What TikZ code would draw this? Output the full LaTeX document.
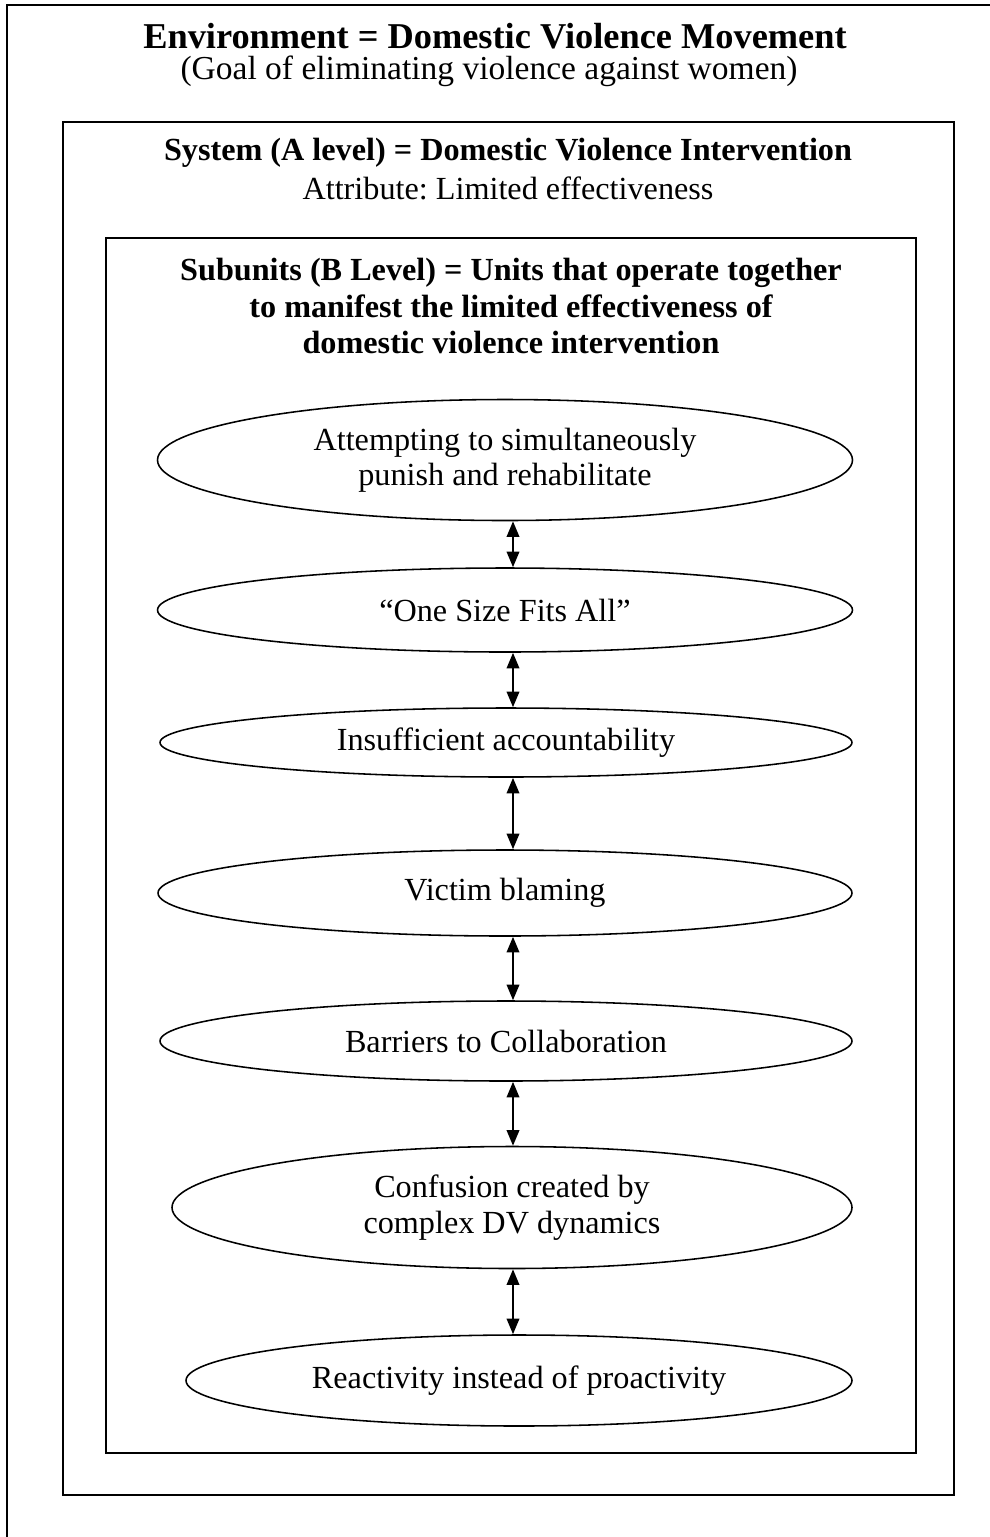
\documentclass[tikz,border=0pt]{standalone}
\usepackage{fontspec}
\setmainfont{Liberation Serif}
\usetikzlibrary{shapes.geometric,arrows.meta}
\frenchspacing
\tikzset{
  boxline/.style={line width=0.8pt},
  oval/.style={draw, ellipse, line width=0.6pt, inner sep=0pt, align=center, font=\fontsize{12.4}{13.6}\selectfont},
  hdr/.style={align=center, inner sep=0pt, font=\fontsize{12.4}{13.9}\selectfont},
  link/.style={line width=0.8pt, {Triangle[length=6pt,width=4.8pt]}-{Triangle[length=6pt,width=4.8pt]}}
}
\begin{document}
\begin{tikzpicture}[x=0.385pt,y=-0.385pt]
\useasboundingbox (0,0) rectangle (990,1537);
\clip (0,0) rectangle (990,1537);
% outer environment box (runs off the page right and bottom)
\draw[boxline] (1000,5) -- (7,5) -- (7,1550);
% system box
\draw[boxline] (63,122) rectangle (954,1495);
% subunit box
\draw[boxline] (106,238) rectangle (916,1453);

\node[hdr, font=\fontsize{14}{16}\selectfont\bfseries] (t1) at (495,36) {Environment = Domestic Violence Movement};
\node[hdr, font=\fontsize{12.9}{14.5}\selectfont] (t2) at (489,71) {(Goal of eliminating violence against women)};
\node[hdr, font=\fontsize{12.4}{13.9}\selectfont\bfseries] (s1) at (508,153) {System (A level) = Domestic Violence Intervention};
\node[hdr] (s2) at (508,188) {Attribute: Limited effectiveness};
\node[hdr, font=\fontsize{12.4}{13.9}\selectfont\bfseries] (u1) at (511,306) {Subunits (B Level) = Units that operate together\\to manifest the limited effectiveness of\\domestic violence intervention};

\node[oval, minimum width=695*0.385pt, minimum height=121*0.385pt] (e1) at (505,460) {Attempting to simultaneously\\ punish and rehabilitate};
\node[oval, minimum width=695*0.385pt, minimum height=84*0.385pt] (e2) at (505,610) {“One Size Fits All”};
\node[oval, minimum width=692*0.385pt, minimum height=69*0.385pt] (e3) at (506,742.5) {Insufficient accountability};
\node[oval, minimum width=694*0.385pt, minimum height=86*0.385pt] (e4) at (505,893) {Victim blaming};
\node[oval, minimum width=692*0.385pt, minimum height=80*0.385pt] (e5) at (506,1041) {Barriers to Collaboration};
\node[oval, minimum width=680*0.385pt, minimum height=122*0.385pt] (e6) at (512,1207.5) {Confusion created by\\complex DV dynamics};
\node[oval, minimum width=666*0.385pt, minimum height=91*0.385pt] (e7) at (519,1380.5) {Reactivity instead of proactivity};

\foreach \a/\b in {e1/e2,e2/e3,e3/e4,e4/e5,e5/e6,e6/e7}
  \draw[link] (\a.south -| 513,0) -- (\b.north -| 513,0);
\end{tikzpicture}
\end{document}
